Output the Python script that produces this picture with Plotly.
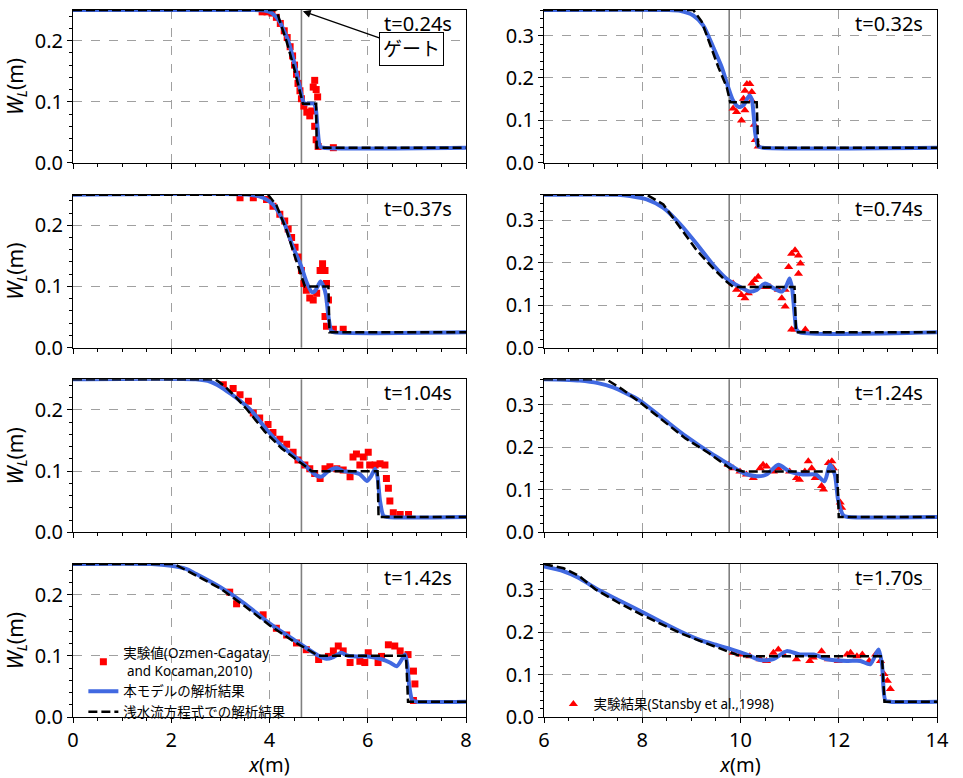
import plotly.graph_objects as go
from plotly.subplots import make_subplots

# ---------------- data ----------------
GATE_LEFT = 4.65
GATE_RIGHT = 9.77
TIMES_LEFT = ["t=0.24s", "t=0.37s", "t=1.04s", "t=1.42s"]
TIMES_RIGHT = ["t=0.32s", "t=0.74s", "t=1.24s", "t=1.70s"]
LEFT_XTICKS = [0, 2, 4, 6, 8]
RIGHT_XTICKS = [6, 8, 10, 12, 14]
LEFT_YTICKS = [0.0, 0.1, 0.2]
RIGHT_YTICKS = [0.0, 0.1, 0.2, 0.3]

# --- left column: Ozmen-Cagatay & Kocaman ---
# t = 0.24 s
exp1_x = [3.85, 3.95, 4.05, 4.14, 4.22, 4.30, 4.36, 4.42, 4.47, 4.51, 4.55, 4.58, 4.62, 4.65, 4.70, 4.76, 4.82, 4.86, 4.89, 4.92, 4.95, 4.98, 4.92, 4.95, 4.99, 5.30]
exp1_y = [0.247, 0.247, 0.245, 0.238, 0.228, 0.216, 0.205, 0.190, 0.175, 0.160, 0.145, 0.130, 0.118, 0.105, 0.093, 0.083, 0.077, 0.085, 0.124, 0.135, 0.120, 0.108, 0.060, 0.038, 0.027, 0.025]
mod1_x = [0, 3.60, 3.90, 4.05, 4.20, 4.30, 4.38, 4.50, 4.60, 4.69, 4.72, 4.90, 4.94, 4.98, 5.03, 5.10, 8]
mod1_y = [0.25, 0.25, 0.249, 0.245, 0.232, 0.215, 0.200, 0.165, 0.130, 0.100, 0.097, 0.097, 0.090, 0.055, 0.027, 0.025, 0.025]
swe1_x = [0, 4.14, 4.25, 4.35, 4.50, 4.60, 4.68, 4.95, 4.96, 8]
swe1_y = [0.25, 0.25, 0.222, 0.198, 0.155, 0.122, 0.097, 0.097, 0.025, 0.025]

# t = 0.37 s
exp2_x = [3.40, 3.67, 3.94, 4.07, 4.21, 4.31, 4.38, 4.45, 4.52, 4.58, 4.65, 4.70, 4.75, 4.82, 4.89, 4.96, 5.03, 5.08, 5.13, 5.16, 5.20, 5.13, 5.16, 5.30, 5.50]
exp2_y = [0.245, 0.245, 0.242, 0.231, 0.218, 0.207, 0.194, 0.180, 0.164, 0.148, 0.126, 0.105, 0.094, 0.081, 0.078, 0.089, 0.126, 0.137, 0.126, 0.105, 0.078, 0.051, 0.035, 0.030, 0.030]
mod2_x = [0, 3.60, 3.87, 4.07, 4.28, 4.48, 4.65, 4.75, 4.86, 4.92, 4.98, 5.04, 5.10, 5.15, 5.20, 5.26, 5.32, 8]
mod2_y = [0.25, 0.25, 0.245, 0.234, 0.207, 0.164, 0.132, 0.108, 0.091, 0.092, 0.100, 0.108, 0.100, 0.085, 0.051, 0.027, 0.025, 0.025]
swe2_x = [0, 3.97, 4.14, 4.35, 4.52, 4.65, 4.72, 5.20, 5.22, 8]
swe2_y = [0.25, 0.25, 0.233, 0.191, 0.148, 0.116, 0.100, 0.100, 0.025, 0.025]

# t = 1.04 s
exp3_x = [3.06, 3.26, 3.40, 3.57, 3.67, 3.80, 3.97, 4.07, 4.21, 4.35, 4.48, 4.58, 4.72, 4.82, 4.92, 5.03, 5.13, 5.23, 5.37, 5.50, 5.64, 5.70, 5.77, 5.84, 5.91, 6.01, 6.04, 6.15, 6.25, 6.35, 6.38, 6.42, 6.45, 6.52, 6.66, 6.83]
exp3_y = [0.241, 0.235, 0.225, 0.214, 0.195, 0.187, 0.176, 0.163, 0.152, 0.144, 0.131, 0.118, 0.110, 0.104, 0.096, 0.088, 0.104, 0.107, 0.104, 0.102, 0.091, 0.123, 0.128, 0.110, 0.123, 0.131, 0.110, 0.110, 0.112, 0.110, 0.088, 0.072, 0.051, 0.032, 0.029, 0.029]
mod3_x = [0, 2.50, 2.80, 3.00, 3.20, 3.40, 3.63, 3.94, 4.28, 4.65, 4.86, 4.95, 5.06, 5.20, 5.37, 5.50, 5.64, 5.84, 5.98, 6.07, 6.15, 6.20, 6.25, 6.32, 6.40, 8]
mod3_y = [0.25, 0.25, 0.246, 0.238, 0.227, 0.215, 0.199, 0.168, 0.139, 0.115, 0.099, 0.093, 0.091, 0.100, 0.105, 0.100, 0.099, 0.095, 0.084, 0.092, 0.104, 0.090, 0.051, 0.027, 0.025, 0.025]
swe3_x = [0, 2.90, 3.10, 3.30, 3.55, 3.90, 4.25, 4.60, 4.86, 6.20, 6.22, 8]
swe3_y = [0.25, 0.25, 0.238, 0.222, 0.200, 0.165, 0.137, 0.115, 0.100, 0.100, 0.025, 0.025]

# t = 1.42 s
exp4_x = [3.19, 3.33, 3.87, 4.14, 4.35, 4.55, 4.75, 5.00, 5.20, 5.30, 5.40, 5.50, 5.64, 5.84, 5.94, 6.01, 6.21, 6.28, 6.42, 6.55, 6.66, 6.82, 6.93, 6.96, 6.93]
exp4_y = [0.204, 0.185, 0.167, 0.145, 0.134, 0.121, 0.110, 0.094, 0.099, 0.108, 0.116, 0.108, 0.089, 0.091, 0.089, 0.105, 0.089, 0.099, 0.118, 0.116, 0.108, 0.102, 0.075, 0.054, 0.027]
mod4_x = [0, 1.60, 2.00, 2.30, 2.50, 3.00, 3.50, 4.00, 4.50, 5.00, 5.16, 5.30, 5.46, 5.60, 5.80, 6.00, 6.30, 6.45, 6.59, 6.70, 6.76, 6.80, 6.85, 6.91, 7.00, 8]
mod4_y = [0.25, 0.25, 0.247, 0.242, 0.234, 0.212, 0.185, 0.153, 0.126, 0.100, 0.095, 0.098, 0.105, 0.100, 0.099, 0.099, 0.094, 0.089, 0.083, 0.095, 0.102, 0.088, 0.048, 0.027, 0.025, 0.025]
swe4_x = [0, 2.05, 2.30, 2.60, 3.00, 3.50, 4.00, 4.50, 5.00, 6.78, 6.82, 8]
swe4_y = [0.25, 0.25, 0.240, 0.227, 0.210, 0.181, 0.150, 0.123, 0.100, 0.100, 0.025, 0.025]

# --- right column: Stansby et al. ---
# t = 0.32 s
exp5_x = [9.85, 9.92, 10.02, 10.06, 10.09, 10.09, 10.13, 10.19, 10.23, 10.23, 10.28, 10.30, 10.36]
exp5_y = [0.128, 0.120, 0.100, 0.151, 0.124, 0.170, 0.186, 0.186, 0.167, 0.147, 0.090, 0.054, 0.039]
mod5_x = [6, 8.50, 8.77, 9.04, 9.24, 9.45, 9.62, 9.75, 9.85, 9.96, 10.06, 10.18, 10.23, 10.27, 10.30, 10.36, 10.45, 14]
mod5_y = [0.36, 0.36, 0.358, 0.347, 0.324, 0.271, 0.225, 0.178, 0.147, 0.132, 0.136, 0.159, 0.150, 0.110, 0.070, 0.039, 0.036, 0.036]
swe5_x = [6, 9.04, 9.21, 9.38, 9.55, 9.72, 9.79, 10.33, 10.36, 14]
swe5_y = [0.36, 0.36, 0.333, 0.280, 0.225, 0.178, 0.143, 0.143, 0.036, 0.036]

# t = 0.74 s
exp6_x = [9.85, 9.92, 10.02, 10.09, 10.16, 10.23, 10.29, 10.36, 10.46, 10.60, 10.77, 10.84, 10.91, 10.91, 10.98, 11.04, 11.11, 11.18, 11.22, 11.18, 11.04, 11.11, 11.32]
exp6_y = [0.151, 0.136, 0.124, 0.116, 0.128, 0.151, 0.159, 0.167, 0.143, 0.143, 0.136, 0.116, 0.097, 0.136, 0.190, 0.221, 0.229, 0.217, 0.198, 0.174, 0.043, 0.043, 0.043]
mod6_x = [6, 7.50, 7.75, 8.09, 8.43, 8.77, 9.11, 9.45, 9.75, 9.99, 10.19, 10.33, 10.50, 10.67, 10.84, 10.93, 11.00, 11.05, 11.10, 11.14, 11.21, 14]
mod6_y = [0.36, 0.36, 0.357, 0.349, 0.329, 0.291, 0.244, 0.194, 0.159, 0.143, 0.132, 0.136, 0.151, 0.140, 0.132, 0.145, 0.163, 0.140, 0.080, 0.043, 0.036, 0.036]
swe6_x = [6, 8.09, 8.43, 8.77, 9.11, 9.45, 9.72, 9.85, 11.10, 11.13, 14]
swe6_y = [0.36, 0.36, 0.337, 0.283, 0.229, 0.186, 0.155, 0.143, 0.143, 0.036, 0.036]

# t = 1.24 s
exp7_x = [9.75, 9.85, 9.99, 10.12, 10.26, 10.40, 10.46, 10.53, 10.67, 10.77, 11.00, 11.14, 11.20, 11.31, 11.38, 11.45, 11.52, 11.65, 11.69, 11.79, 11.86, 11.89, 12.03, 12.06]
exp7_y = [0.159, 0.151, 0.143, 0.136, 0.128, 0.151, 0.159, 0.155, 0.143, 0.151, 0.143, 0.128, 0.124, 0.143, 0.167, 0.151, 0.128, 0.109, 0.101, 0.163, 0.167, 0.151, 0.070, 0.058]
mod7_x = [6, 6.40, 6.73, 7.10, 7.41, 7.95, 8.43, 8.90, 9.45, 9.78, 10.05, 10.33, 10.53, 10.77, 11.00, 11.27, 11.54, 11.71, 11.82, 11.92, 11.99, 12.10, 12.20, 14]
mod7_y = [0.36, 0.359, 0.357, 0.351, 0.341, 0.310, 0.267, 0.225, 0.182, 0.159, 0.140, 0.132, 0.136, 0.159, 0.143, 0.136, 0.136, 0.120, 0.159, 0.136, 0.074, 0.039, 0.036, 0.036]
swe7_x = [6, 7.27, 7.60, 8.00, 8.41, 8.88, 9.36, 9.78, 10.05, 11.97, 12.00, 14]
swe7_y = [0.36, 0.36, 0.336, 0.302, 0.264, 0.221, 0.186, 0.151, 0.143, 0.143, 0.036, 0.036]

# t = 1.70 s
exp8_x = [9.85, 9.99, 10.19, 10.40, 10.53, 10.67, 10.77, 10.87, 11.14, 11.41, 11.48, 11.65, 11.79, 11.99, 12.17, 12.24, 12.37, 12.48, 12.62, 12.75, 12.85, 12.92, 12.99, 13.05]
exp8_y = [0.151, 0.147, 0.143, 0.136, 0.132, 0.151, 0.159, 0.147, 0.136, 0.132, 0.140, 0.155, 0.136, 0.132, 0.147, 0.151, 0.143, 0.147, 0.132, 0.147, 0.132, 0.101, 0.085, 0.066]
mod8_x = [6.0, 6.40, 6.70, 7.05, 7.50, 8.00, 8.40, 8.80, 9.20, 9.50, 9.77, 10.13, 10.40, 10.67, 10.94, 11.21, 11.49, 11.76, 12.17, 12.44, 12.64, 12.81, 12.88, 12.95, 13.05, 14]
mod8_y = [0.354, 0.343, 0.328, 0.303, 0.276, 0.247, 0.223, 0.200, 0.180, 0.170, 0.161, 0.147, 0.134, 0.136, 0.155, 0.147, 0.147, 0.136, 0.132, 0.132, 0.124, 0.159, 0.124, 0.039, 0.036, 0.036]
swe8_x = [6.0, 6.40, 6.70, 7.05, 7.50, 8.00, 8.40, 8.80, 9.20, 9.50, 9.85, 10.00, 12.88, 12.93, 14]
swe8_y = [0.36, 0.350, 0.333, 0.300, 0.270, 0.240, 0.218, 0.196, 0.178, 0.165, 0.148, 0.143, 0.143, 0.036, 0.036]

LEFT_PANELS = [(exp1_x, exp1_y, mod1_x, mod1_y, swe1_x, swe1_y),
               (exp2_x, exp2_y, mod2_x, mod2_y, swe2_x, swe2_y),
               (exp3_x, exp3_y, mod3_x, mod3_y, swe3_x, swe3_y),
               (exp4_x, exp4_y, mod4_x, mod4_y, swe4_x, swe4_y)]
RIGHT_PANELS = [(exp5_x, exp5_y, mod5_x, mod5_y, swe5_x, swe5_y),
                (exp6_x, exp6_y, mod6_x, mod6_y, swe6_x, swe6_y),
                (exp7_x, exp7_y, mod7_x, mod7_y, swe7_x, swe7_y),
                (exp8_x, exp8_y, mod8_x, mod8_y, swe8_x, swe8_y)]

NAME_EXP_L = "実験値(Ozmen-Cagatay<br> and Kocaman,2010)"
NAME_EXP_R = "実験結果(Stansby et al.,1998)"
NAME_MODEL = "本モデルの解析結果"
NAME_SWE = "浅水流方程式での解析結果"

# ---------------- figure ----------------
FONT = "Noto Sans, Noto Sans CJK JP, sans-serif"
W, H = 963, 778
ML, MR, MT, MB = 73, 26, 9, 55
PW = W - ML - MR
PH = H - MT - MB

fig = make_subplots(rows=4, cols=2, horizontal_spacing=78 / PW, vertical_spacing=32 / PH)

RED = "#ff0000"
BLUE = "#4169e1"

for col, panels in ((1, LEFT_PANELS), (2, RIGHT_PANELS)):
    for r, (ex, ey, mx, my, sx, sy) in enumerate(panels, start=1):
        is_leg = (r == 4)
        legend = "legend" if col == 1 else "legend2"
        fig.add_trace(go.Scatter(
            x=ex, y=ey, mode="markers",
            marker=dict(symbol="square" if col == 1 else "triangle-up",
                        size=7 if col == 1 else 8, color=RED, line=dict(width=0)),
            name=NAME_EXP_L if col == 1 else NAME_EXP_R,
            showlegend=is_leg, legend=legend), row=r, col=col)
        fig.add_trace(go.Scatter(
            x=mx, y=my, mode="lines",
            line=dict(color=BLUE, width=4, shape="spline", smoothing=0.7),
            name=NAME_MODEL, showlegend=(is_leg and col == 1), legend="legend"),
            row=r, col=col)
        fig.add_trace(go.Scatter(
            x=sx, y=sy, mode="lines", line=dict(color="black", width=2.5, dash="9px,4px"),
            name=NAME_SWE, showlegend=(is_leg and col == 1), legend="legend"),
            row=r, col=col)

axis_common = dict(
    showgrid=True, gridcolor="#a0a0a0", griddash="dash", gridwidth=1,
    showline=True, linecolor="black", linewidth=1, mirror=True,
    ticks="outside", ticklen=5, tickwidth=1, tickcolor="black",
    zeroline=False, tickfont=dict(size=20, color="black", family=FONT),
)

for r in range(1, 5):
    for col in (1, 2):
        idx = (r - 1) * 2 + col
        xname = "xaxis" if idx == 1 else f"xaxis{idx}"
        yname = "yaxis" if idx == 1 else f"yaxis{idx}"
        if col == 1:
            xr, xt, yr, yt = [0, 8], LEFT_XTICKS, [0, 0.25], LEFT_YTICKS
        else:
            xr, xt, yr, yt = [6, 14], RIGHT_XTICKS, [0, 0.36], RIGHT_YTICKS
        xa = dict(axis_common, range=xr, tickvals=xt, showticklabels=(r == 4),
                  minor=dict(ticks="outside", ticklen=3, tickcolor="black", dtick=0.5, tick0=0, showgrid=False))
        if r == 4:
            xa["title"] = dict(text="<i>x</i>(m)", font=dict(size=20, family=FONT, color="black"), standoff=2)
        ya = dict(axis_common, range=yr, tickvals=yt, tickformat=".1f",
                  minor=dict(ticks="outside", ticklen=3, tickcolor="black", dtick=0.02, tick0=0, showgrid=False))
        if col == 1:
            ya["title"] = dict(text="<i>W</i><sub><i>L</i></sub>(m)", font=dict(size=21, family=FONT, color="black"), standoff=5)
        fig.layout[xname].update(xa)
        fig.layout[yname].update(ya)

        # gate line
        gx = GATE_LEFT if col == 1 else GATE_RIGHT
        xref = "x" if idx == 1 else f"x{idx}"
        yref = "y" if idx == 1 else f"y{idx}"
        fig.add_shape(type="line", x0=gx, x1=gx, y0=0, y1=1, xref=xref, yref=f"{yref} domain",
                      line=dict(color="#808080", width=1.6), layer="below")
        # time label
        tl = TIMES_LEFT[r - 1] if col == 1 else TIMES_RIGHT[r - 1]
        fig.add_annotation(text=tl, xref=f"{xref} domain", yref=f"{yref} domain",
                           x=0.97, y=1.0, xanchor="right", yanchor="top", yshift=2,
                           showarrow=False, font=dict(size=20, family=FONT, color="black"))

# gate annotation
fig.add_annotation(text="ゲート", x=GATE_LEFT + 0.03, y=0.248, xref="x", yref="y",
                   ax=6.90, ay=0.186, axref="x", ayref="y",
                   showarrow=True, arrowhead=2, arrowsize=1.2, arrowwidth=1.3, arrowcolor="black",
                   font=dict(size=19, family=FONT, color="black"),
                   bgcolor="white", bordercolor="black", borderwidth=1, borderpad=3)

fig.update_layout(
    width=W, height=H,
    margin=dict(l=ML, r=MR, t=MT, b=MB),
    paper_bgcolor="white", plot_bgcolor="white",
    font=dict(family=FONT, color="black"),
    legend=dict(x=0.012, y=0.112, xanchor="left", yanchor="top",
                bgcolor="rgba(0,0,0,0)", font=dict(size=13.5, family=FONT, color="black"),
                itemwidth=30, tracegroupgap=2),
    legend2=dict(x=0.556, y=0.04, xanchor="left", yanchor="top",
                 bgcolor="rgba(0,0,0,0)", font=dict(size=13.5, family=FONT, color="black"),
                 itemwidth=30),
)

fig.write_html("out.html", config={"displayModeBar": False},
               post_script="document.body.style.margin='0px';")
